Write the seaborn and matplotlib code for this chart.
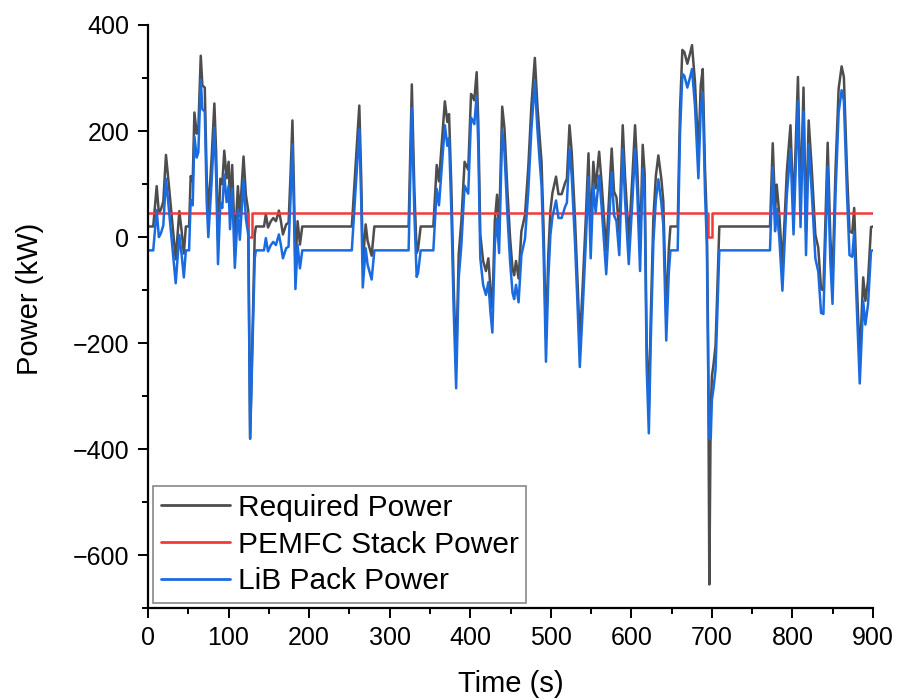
import matplotlib
matplotlib.use("Agg")
import matplotlib.pyplot as plt
from matplotlib.ticker import MultipleLocator
import seaborn as sns
import pandas as pd

# ---------------- data ----------------
time_s = [
    0, 6.5, 10.8, 13.5, 16, 19, 22.3, 25.3, 29.4, 34.4,
    38.9, 41.8, 44.5, 47, 51, 53, 55.5, 57.6, 60.5, 62.5,
    65.5, 67.5, 70.5, 72.9, 74.9, 79, 82.4, 84.6, 86.9, 89.8,
    92.2, 94.7, 97.6, 100.1, 101.8, 104.5, 107.8, 111.6, 114, 118.6,
    121.5, 124.4, 126.8, 132.5, 134, 144, 146.3, 149, 152.5, 155.5,
    158.8, 162.5, 165, 167.5, 171.5, 174.5, 177, 179.3, 181, 183,
    185.7, 188.6, 191.5, 253, 262.3, 264.8, 266.6, 270.2, 272.6, 277.6,
    281, 323.5, 327.5, 330.6, 333.5, 335.2, 338.5, 354.2, 358.4, 361.2,
    364.2, 368.5, 371.6, 373.7, 376.6, 379.5, 382.5, 385.7, 389, 393,
    397.5, 401, 403, 405, 408, 410, 412.5, 416, 419.5, 422.5,
    425, 427.5, 430.5, 433.3, 435.8, 439.7, 442.5, 446, 449.4, 452.5,
    454.5, 456.8, 460, 463.5, 468, 472, 476, 480.2, 483.3, 486,
    488.5, 491, 494, 497, 499.5, 502, 506.5, 509.5, 513.5, 517.7,
    520, 523.2, 526, 530, 533.5, 536, 539.5, 543.3, 546.8, 549.5,
    552.8, 555.7, 560, 563.2, 568.8, 572.7, 575.6, 578.5, 581.5, 585,
    589.3, 592.1, 596.8, 601.5, 604.6, 607.5, 610.8, 614.1, 616.5, 619,
    621.7, 624, 627.3, 630.4, 633.5, 637.2, 639.7, 643.3, 646.5, 648.5,
    657.5, 660.4, 663.3, 665.8, 669.5, 672.8, 675.3, 679, 683.2, 686.1,
    688.6, 691.4, 693.7, 695.3, 696.8, 698.5, 700, 702, 704.5, 706.5,
    709.2, 772.1, 775.5, 778.4, 780.4, 783.7, 787.5, 793, 797.5, 801.3,
    806.8, 810, 813.7, 816.8, 820.1, 824, 828.4, 832, 835.5, 838.4,
    843.7, 847, 849.7, 853.5, 857.3, 861, 863.8, 867.7, 870.8, 874.2,
    876.6, 879.3, 883.5, 887.8, 890.5, 893.8, 897.5, 900,
]

required_kw = [
    20, 20, 96, 45, 52, 67, 155, 108, 40, -42,
    49, 11, -31, 20, 20, 115, 105, 235, 195, 205,
    342, 286, 282, 111, 45, 150, 252, 160, -6, 110,
    100, 163, 111, 142, 60, 136, -13, 96, 40, 152,
    80, 50, -380, 5, 20, 20, 43, 18, 30, 36,
    30, 50, 30, 5, 24, 27, 120, 220, 105, -53,
    30, -14, 20, 20, 248, 105, -50, 24, -7, -35,
    20, 20, 288, 92, -30, -23, 20, 20, 136, 105,
    167, 256, 217, 232, 92, -95, -240, -32, 30, 142,
    127, 270, 265, 258, 311, 217, 5, -45, -64, -40,
    -95, -135, 30, 80, 15, 246, 205, 92, 0, -60,
    -72, -45, -78, 11, 42, 130, 250, 338, 250, 192,
    142, 20, -190, -30, 49, 83, 114, 81, 81, 102,
    110, 211, 160, 36, -95, -200, -95, 30, 158, 5,
    142, 92, 161, 100, -25, 86, 167, 86, 75, 11,
    211, 117, -6, 120, 211, 124, -19, 174, 120, -200,
    -325, -157, 35, 115, 154, 110, 67, -150, -22, 20,
    20, 240, 353, 349, 327, 346, 362, 292, 156, 286,
    317, 130, 30, -200, -655, -330, -262, -240, -205, -110,
    20, 20, 177, 56, 99, 42, -56, 124, 211, 50,
    302, 64, 282, 11, 220, 127, 5, -20, -98, -100,
    178, 0, -81, 130, 280, 322, 302, 124, 11, 8,
    55, -65, -231, -76, -120, -82, 19, 20,
]

lib_kw = [
    -25, -25, 51, 0, 7, 22, 110, 63, -5, -87,
    4, -34, -76, -25, -25, 70, 60, 190, 150, 160,
    297, 241, 237, 66, 0, 105, 207, 115, -51, 65,
    55, 118, 66, 97, 15, 91, -58, 51, -5, 107,
    35, 5, -380, -40, -25, -25, -2, -27, -15, -9,
    -15, 5, -15, -40, -21, -18, 75, 175, 60, -98,
    -15, -59, -25, -25, 203, 60, -95, -21, -52, -80,
    -25, -25, 243, 47, -75, -68, -25, -25, 91, 60,
    122, 211, 172, 187, 47, -140, -285, -77, -15, 97,
    82, 225, 220, 213, 266, 172, -40, -90, -109, -85,
    -140, -180, -15, 35, -30, 201, 160, 47, -45, -105,
    -117, -90, -123, -34, -3, 85, 205, 293, 205, 147,
    97, -25, -235, -75, 4, 38, 69, 36, 36, 57,
    65, 166, 115, -9, -140, -245, -140, -15, 113, -40,
    97, 47, 116, 55, -70, 41, 122, 41, 30, -34,
    166, 72, -51, 75, 166, 79, -64, 129, 75, -245,
    -370, -202, -10, 70, 109, 65, 22, -195, -67, -25,
    -25, 195, 308, 304, 282, 301, 317, 247, 111, 241,
    272, 85, -15, -245, -380, -380, -307, -285, -250, -155,
    -25, -25, 132, 11, 54, -3, -101, 79, 166, 5,
    257, 19, 237, -34, 175, 82, -40, -65, -143, -145,
    133, -45, -126, 85, 235, 277, 257, 79, -34, -37,
    10, -110, -276, -121, -165, -127, -26, -25,
]

fc_time_s = [0, 124.6, 124.6, 129.5, 129.5, 695.6, 695.6, 699.7, 699.7, 900]
fc_kw = [45, 45, 0, 0, 45, 45, 0, 0, 45, 45]

series_names = ["Required Power", "PEMFC Stack Power", "LiB Pack Power"]
series_colors = ["#4d4d4d", "#f5383a", "#1a6be0"]

# ---------------- styling ----------------
sns.set_theme(style="ticks")
plt.rcParams["font.family"] = ["Liberation Sans", "DejaVu Sans"]
plt.rcParams["axes.unicode_minus"] = True
plt.rcParams["text.color"] = "black"
plt.rcParams["axes.labelcolor"] = "black"
plt.rcParams["xtick.color"] = "black"
plt.rcParams["ytick.color"] = "black"

fig = plt.figure(figsize=(8.98, 7.0), dpi=100)
fig.patch.set_facecolor("white")
ax = fig.add_axes([0.1648, 0.131, 0.8074, 0.8333])
ax.set_facecolor("white")

df_req = pd.DataFrame({"t": time_s, "p": required_kw})
df_fc = pd.DataFrame({"t": fc_time_s, "p": fc_kw})
df_lib = pd.DataFrame({"t": time_s, "p": lib_kw})

lw = 1.8
sns.lineplot(data=df_req, x="t", y="p", ax=ax, color=series_colors[0], lw=lw,
             estimator=None, sort=False, label=series_names[0])
sns.lineplot(data=df_fc, x="t", y="p", ax=ax, color=series_colors[1], lw=lw,
             estimator=None, sort=False, label=series_names[1])
sns.lineplot(data=df_lib, x="t", y="p", ax=ax, color=series_colors[2], lw=lw,
             estimator=None, sort=False, label=series_names[2])

ax.set_xlim(0, 900)
ax.set_ylim(-700, 400)
ax.xaxis.set_major_locator(MultipleLocator(100))
ax.xaxis.set_minor_locator(MultipleLocator(50))
ax.yaxis.set_major_locator(MultipleLocator(200))
ax.yaxis.set_minor_locator(MultipleLocator(100))

for side in ["top", "right"]:
    ax.spines[side].set_visible(False)
for side in ["left", "bottom"]:
    ax.spines[side].set_linewidth(1.6)
    ax.spines[side].set_color("black")

ax.tick_params(axis="both", which="major", direction="out", length=7.5, width=1.4,
               labelsize=18, colors="black", pad=5)
ax.tick_params(axis="both", which="minor", direction="out", length=4, width=1.4,
               colors="black")
ax.tick_params(axis="y", which="major", pad=6)

ax.set_xlabel("Time (s)", fontsize=21, color="black")
ax.set_ylabel("Power (kW)", fontsize=21, color="black")
ax.xaxis.set_label_coords(0.5, -0.105)
ax.yaxis.set_label_coords(-0.143, 0.53)

leg = ax.legend(loc="lower left", fontsize=21.5, frameon=True, fancybox=False,
                framealpha=1, edgecolor="#888888", handlelength=2.3,
                handletextpad=0.28, labelspacing=0.3, borderpad=0.25,
                borderaxespad=0.18)
leg.get_frame().set_linewidth(1.2)
for txt in leg.get_texts():
    txt.set_color("black")
for h in leg.get_lines():
    h.set_linewidth(2.0)

fig.savefig("out.png", dpi=100, facecolor="white")
